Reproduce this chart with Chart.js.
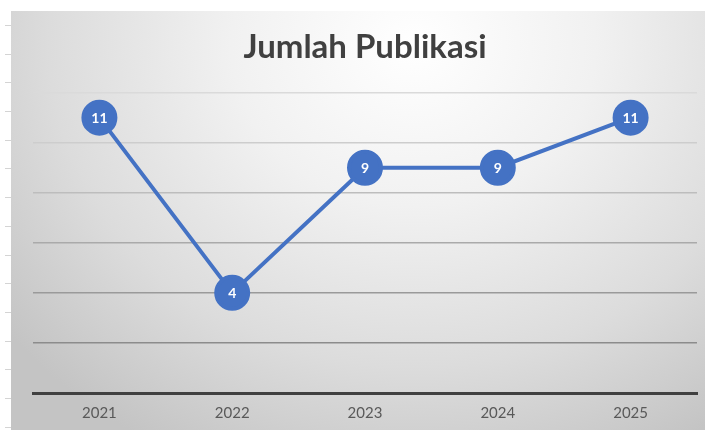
<!DOCTYPE html>
<html>
<head>
<meta charset="utf-8">
<script src="https://cdn.jsdelivr.net/npm/chart.js@4"></script>
<style>
  html, body { margin: 0; padding: 0; background: #fff; }
  body { width: 705px; height: 430px; position: relative; overflow: hidden; }
  #rows {
    position: absolute; left: 5px; top: 0; width: 6px; height: 430px;
    background: repeating-linear-gradient(to bottom, transparent 0px, transparent 25px, #d4d4d4 25px, #d4d4d4 26px, transparent 26px, transparent 28.7px);
  }
  #box {
    position: absolute; left: 11px; top: 11px; width: 694px; height: 419px;
    background: radial-gradient(ellipse 75% 110% at 58% 8%, #ffffff 0%, #f1f1f1 35%, #dcdcdc 70%, #c4c4c4 100%);
  }
  #chart { display: block; width: 694px; height: 419px; }
</style>
</head>
<body>
<div id="rows"></div>
<div id="box"><canvas id="chart" width="694" height="419"></canvas></div>
<script>
// data
const years = ["2021", "2022", "2023", "2024", "2025"];
const publikasi = [11, 4, 9, 9, 11];

const blue = "#4472C4";

// white number inside each marker
const pointLabels = {
  id: "pointLabels",
  afterDatasetsDraw(chart) {
    const ctx = chart.ctx;
    const meta = chart.getDatasetMeta(0);
    ctx.save();
    ctx.fillStyle = "#ffffff";
    ctx.font = "bold 14px Lato";
    ctx.textAlign = "center";
    ctx.textBaseline = "middle";
    meta.data.forEach((pt, i) => {
      ctx.fillText(String(publikasi[i]), pt.x, pt.y + 1);
    });
    ctx.restore();
  },
};

function gridColor(v) {
  // lighter near the top, darker near the axis
  const map = { 12: "#dadada", 10: "#cdcdcd", 8: "#bdbdbd", 6: "#aaaaaa", 4: "#9a9a9a", 2: "#8c8c8c" };
  return map[v] || "rgba(0,0,0,0)";
}

new Chart(document.getElementById("chart"), {
  type: "line",
  data: {
    labels: years,
    datasets: [
      {
        label: "Jumlah Publikasi",
        data: publikasi,
        borderColor: blue,
        borderWidth: 4,
        backgroundColor: blue,
        pointBackgroundColor: blue,
        pointBorderColor: blue,
        pointRadius: 16,
        pointHoverRadius: 16,
        tension: 0,
        fill: false,
      },
    ],
  },
  options: {
    responsive: false,
    animation: false,
    devicePixelRatio: 1,
    layout: { autoPadding: false, padding: { left: 22, right: 8, top: 0, bottom: -3 } },
    plugins: {
      legend: { display: false },
      tooltip: { enabled: false },
      title: {
        display: true,
        text: "Jumlah Publikasi",
        color: "#404040",
        font: { family: "Lato", size: 33, weight: "bold", lineHeight: 1.2 },
        padding: { top: 17, bottom: 25 },
      },
    },
    scales: {
      x: {
        offset: true,
        grid: { display: false, drawTicks: false },
        border: { display: true, color: "#404040", width: 3 },
        ticks: { color: "#595959", font: { family: "Lato", size: 15 }, padding: 11 },
      },
      y: {
        min: 0,
        max: 12,
        ticks: { display: false, stepSize: 2 },
        grid: {
          drawTicks: false,
          lineWidth: 1.5,
          color: (c) => gridColor(c.tick ? c.tick.value : -1),
        },
        border: { display: false },
      },
    },
  },
  plugins: [pointLabels],
});
</script>
</body>
</html>
